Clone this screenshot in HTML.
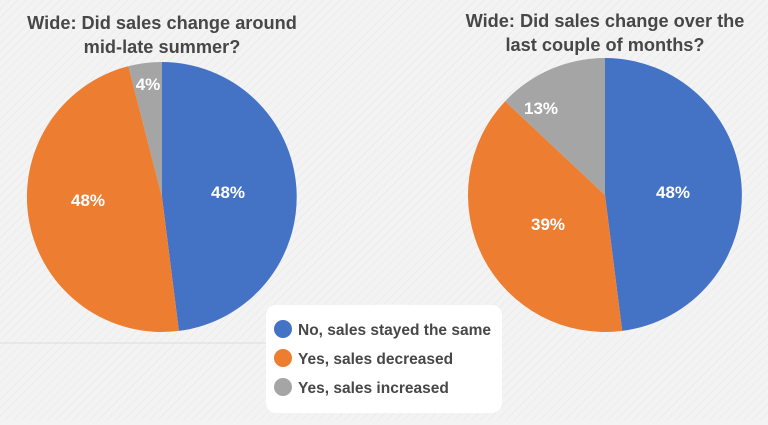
<!DOCTYPE html><html><head><style>
body{margin:0;width:768px;height:420px;overflow:hidden;background:#f3f3f3;font-family:"Liberation Sans",sans-serif}
</style></head><body>
<svg width="768" height="420" xmlns="http://www.w3.org/2000/svg">
<defs><pattern id="h" width="6" height="6" patternUnits="userSpaceOnUse" patternTransform="rotate(45)"><rect width="6" height="6" fill="#f3f3f3"/><line x1="0" y1="0" x2="0" y2="6" stroke="#ececec" stroke-width="2"/></pattern></defs>
<rect width="768" height="420" fill="url(#h)"/>
<line x1="0" y1="343" x2="266" y2="343" stroke="#dcdcdc"/>
<g font-weight="bold" fill="#474747" font-size="18.2" text-anchor="middle">
<text x="162" y="29">Wide: Did sales change around</text>
<text x="162" y="53">mid-late summer?</text>
<text x="605" y="27">Wide: Did sales change over the</text>
<text x="605" y="51">last couple of months?</text>
</g>
<g>
<path d="M162,197 L162,62 A135,135 0 0 1 178.9,330.9 Z" fill="#4472c4"/>
<path d="M162,197 L178.9,330.9 A135,135 0 0 1 128.4,66.2 Z" fill="#ed7d31"/>
<path d="M162,197 L128.4,66.2 A135,135 0 0 1 162,62 Z" fill="#a5a5a5"/>
<path d="M605,195 L605,58 A137,137 0 0 1 622.2,330.9 Z" fill="#4472c4"/>
<path d="M605,195 L622.2,330.9 A137,137 0 0 1 505.1,101.2 Z" fill="#ed7d31"/>
<path d="M605,195 L505.1,101.2 A137,137 0 0 1 605,58 Z" fill="#a5a5a5"/>
</g>
<g font-weight="bold" fill="#fff" font-size="17" text-anchor="middle">
<text x="228" y="198">48%</text><text x="88" y="206">48%</text><text x="148" y="90">4%</text>
<text x="673" y="198">48%</text><text x="548" y="230">39%</text><text x="541" y="114">13%</text>
</g>
<rect x="266" y="305" width="236" height="108" rx="10" fill="#fff"/>
<g font-weight="bold" fill="#474747" font-size="15.5">
<circle cx="283" cy="329" r="9" fill="#4472c4"/><text x="298" y="335">No, sales stayed the same</text>
<circle cx="283" cy="358" r="9" fill="#ed7d31"/><text x="298" y="364">Yes, sales decreased</text>
<circle cx="283" cy="387" r="9" fill="#a5a5a5"/><text x="298" y="393">Yes, sales increased</text>
</g>
</svg>
</body></html>
